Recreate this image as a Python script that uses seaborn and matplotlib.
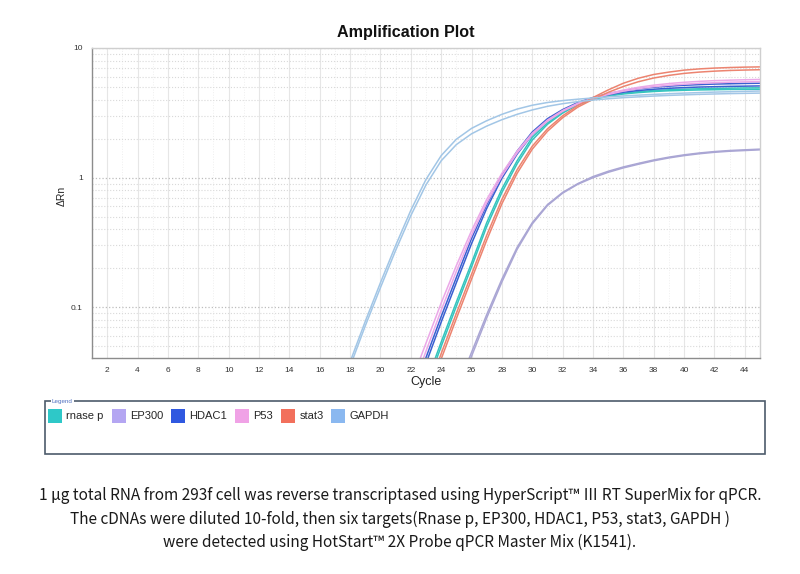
import numpy as np
import pandas as pd
import matplotlib
matplotlib.use("Agg")
import matplotlib.pyplot as plt
from matplotlib.patches import Patch, Rectangle
import seaborn as sns

# ---------------- data ----------------
CYCLES = list(range(17, 46))
nan = np.nan

GAPDH_1 = [0.020, 0.038, 0.078, 0.155, 0.30, 0.56, 0.97, 1.48, 1.98, 2.40, 2.75, 3.08, 3.38,
           3.62, 3.80, 3.93, 4.03, 4.12, 4.20, 4.27, 4.33, 4.39, 4.44, 4.49, 4.53, 4.57, 4.60, 4.63, 4.66]
GAPDH_2 = [0.018, 0.035, 0.072, 0.142, 0.275, 0.51, 0.88, 1.35, 1.80, 2.18, 2.50, 2.80, 3.08,
           3.33, 3.55, 3.72, 3.86, 3.97, 4.06, 4.14, 4.20, 4.26, 4.31, 4.35, 4.39, 4.42, 4.45, 4.47, 4.49]
RNASEP_1 = [nan, nan, nan, nan, nan, nan, 0.026, 0.054, 0.11, 0.22, 0.45, 0.82, 1.35, 2.05, 2.65,
            3.20, 3.70, 4.05, 4.30, 4.48, 4.60, 4.70, 4.76, 4.81, 4.85, 4.88, 4.90, 4.92, 4.93]
RNASEP_2 = [nan, nan, nan, nan, nan, nan, 0.024, 0.050, 0.102, 0.205, 0.42, 0.77, 1.28, 1.95, 2.58,
            3.15, 3.65, 4.00, 4.25, 4.42, 4.53, 4.62, 4.68, 4.72, 4.75, 4.77, 4.79, 4.80, 4.81]
HDAC1_1 = [nan, nan, nan, nan, nan, 0.021, 0.041, 0.085, 0.17, 0.34, 0.62, 1.05, 1.60, 2.25, 2.85,
           3.35, 3.80, 4.15, 4.45, 4.68, 4.85, 4.98, 5.08, 5.16, 5.22, 5.27, 5.30, 5.33, 5.35]
HDAC1_2 = [nan, nan, nan, nan, nan, 0.019, 0.037, 0.077, 0.155, 0.31, 0.58, 0.99, 1.52, 2.15, 2.75,
           3.28, 3.72, 4.08, 4.36, 4.56, 4.70, 4.81, 4.89, 4.95, 5.00, 5.03, 5.06, 5.08, 5.10]
P53_1 = [nan, nan, nan, nan, nan, 0.026, 0.053, 0.108, 0.21, 0.39, 0.68, 1.08, 1.60, 2.20, 2.78,
         3.30, 3.75, 4.12, 4.45, 4.74, 4.98, 5.17, 5.32, 5.44, 5.53, 5.60, 5.65, 5.69, 5.72]
P53_2 = [nan, nan, nan, nan, nan, 0.022, 0.046, 0.095, 0.19, 0.36, 0.64, 1.03, 1.55, 2.15, 2.72,
         3.25, 3.70, 4.06, 4.38, 4.65, 4.86, 5.03, 5.16, 5.26, 5.34, 5.40, 5.45, 5.48, 5.50]
STAT3_1 = [nan, nan, nan, nan, nan, nan, 0.021, 0.044, 0.090, 0.18, 0.36, 0.68, 1.15, 1.75, 2.38,
           3.00, 3.60, 4.15, 4.75, 5.35, 5.85, 6.25, 6.52, 6.75, 6.90, 7.00, 7.07, 7.12, 7.15]
STAT3_2 = [nan, nan, nan, nan, nan, nan, 0.019, 0.040, 0.082, 0.165, 0.33, 0.63, 1.08, 1.66, 2.28,
           2.90, 3.50, 4.02, 4.55, 5.05, 5.50, 5.87, 6.15, 6.37, 6.52, 6.63, 6.71, 6.76, 6.80]
EP300_1 = [nan, nan, nan, nan, nan, nan, nan, nan, 0.023, 0.045, 0.088, 0.165, 0.29, 0.45, 0.62,
           0.77, 0.90, 1.02, 1.12, 1.21, 1.29, 1.37, 1.44, 1.50, 1.55, 1.59, 1.62, 1.64, 1.66]
EP300_2 = [nan, nan, nan, nan, nan, nan, nan, nan, 0.021, 0.042, 0.083, 0.157, 0.28, 0.44, 0.61,
           0.76, 0.89, 1.00, 1.10, 1.19, 1.27, 1.35, 1.42, 1.48, 1.53, 1.57, 1.60, 1.62, 1.64]

TARGETS = ["rnase p", "EP300", "HDAC1", "P53", "stat3", "GAPDH"]
SERIES = {
    "rnase p": [RNASEP_1, RNASEP_2],
    "EP300": [EP300_1, EP300_2],
    "HDAC1": [HDAC1_1, HDAC1_2],
    "P53": [P53_1, P53_2],
    "stat3": [STAT3_1, STAT3_2],
    "GAPDH": [GAPDH_1, GAPDH_2],
}
X_TICKS = list(range(2, 46, 2))
Y_TICKS = [0.1, 1, 10]
Y_TICK_LABELS = ["0.1", "1", "10"]

LINE_COLORS = {"rnase p": "#35c4be", "EP300": "#aaa6d4", "HDAC1": "#3a5fd0",
               "P53": "#eba8e8", "stat3": "#ec8470", "GAPDH": "#a2c6e6"}
LEGEND_COLORS = {"rnase p": "#2ec8c8", "EP300": "#b4a6f2", "HDAC1": "#2f58e0",
                 "P53": "#f0a2e6", "stat3": "#f2705c", "GAPDH": "#8ab8f0"}

CAPTION = [
    "1 μg total RNA from 293f cell was reverse transcriptased using HyperScript™ Ⅲ RT SuperMix for qPCR.",
    "The cDNAs were diluted 10-fold, then six targets(Rnase p, EP300, HDAC1, P53, stat3, GAPDH )",
    "were detected using HotStart™ 2X Probe qPCR Master Mix (K1541).",
]

# ---------------- long table ----------------
rows = []
for t in TARGETS:
    for r, vals in enumerate(SERIES[t]):
        for c, v in zip(CYCLES, vals):
            if not np.isnan(v):
                rows.append({"cycle": c, "value": v, "target": t, "rep": f"{t}_{r}"})
df = pd.DataFrame(rows)

sns.set_style("white")
plt.rcParams["font.family"] = ["Liberation Sans", "DejaVu Sans"]

fig = plt.figure(figsize=(8, 5.74), dpi=100)
ax = fig.add_axes([92 / 800, 1 - 358 / 574, (760 - 92) / 800, (358 - 48) / 574])

sns.lineplot(data=df, x="cycle", y="value", hue="target", units="rep", estimator=None,
             palette=LINE_COLORS, hue_order=TARGETS, linewidth=1.1, legend=False, ax=ax,
             sort=True)
for ln in ax.lines:
    ln.set_solid_joinstyle("round")

ax.set_yscale("log")
ax.set_xlim(1, 45)
ax.set_ylim(0.0407, 10)
ax.set_xticks(X_TICKS)
ax.set_xticks(list(range(1, 46, 2)), minor=True)
ax.set_yticks(Y_TICKS)
ax.set_yticklabels(Y_TICK_LABELS)
ax.tick_params(axis="both", which="major", labelsize=6, colors="#666666", length=3,
               width=0.6, labelcolor="#333333")
ax.tick_params(axis="x", which="minor", length=0)
ax.tick_params(axis="y", which="minor", length=1.5, width=0.5, colors="#999999")
ax.yaxis.set_minor_formatter(matplotlib.ticker.NullFormatter())

ax.grid(which="major", axis="x", color="#e6e6e6", lw=0.8, ls="-")
ax.grid(which="minor", axis="x", color="#efefef", lw=0.7, ls=":")
ax.grid(which="major", axis="y", color="#bdbdbd", lw=0.9, ls=":")
ax.grid(which="minor", axis="y", color="#d9d9d9", lw=0.8, ls=":")
ax.set_axisbelow(True)

for side in ["left", "bottom"]:
    ax.spines[side].set_color("#8c8c8c")
    ax.spines[side].set_linewidth(1.0)
for side in ["top", "right"]:
    ax.spines[side].set_color("#cfcfcf")
    ax.spines[side].set_linewidth(1.0)

ax.set_xlabel("")
ax.set_ylabel("")
fig.text(426 / 800, 1 - 382 / 574, "Cycle", ha="center", va="center", fontsize=9, color="#222222")
fig.text(62 / 800, 1 - 196 / 574, "ΔRn", ha="center", va="center", fontsize=7.5,
         rotation=90, color="#222222")
fig.text(406 / 800, 1 - 32 / 574, "Amplification Plot", ha="center", va="center",
         fontsize=11.6, fontweight="bold", color="#111111")

# legend box
fig.patches.append(Rectangle((45 / 800, 1 - 454 / 574), 720 / 800, 53 / 574,
                             transform=fig.transFigure, fill=False,
                             edgecolor="#4d5b6b", lw=1.2))
fig.text(52 / 800, 1 - 401 / 574, "Legend", ha="left", va="center", fontsize=4.5,
         color="#5070c0", bbox=dict(facecolor="white", edgecolor="none", pad=0.6))
handles = [Patch(facecolor=LEGEND_COLORS[t], edgecolor="none", label=t) for t in TARGETS]
fig.legend(handles=handles, loc="upper left", bbox_to_anchor=(48 / 800, 1 - 408.5 / 574),
           ncol=6, frameon=False, fontsize=8, handlelength=1.26, handleheight=1.6,
           handletextpad=0.4, columnspacing=0.7, borderaxespad=0, borderpad=0)

for i, line in enumerate(CAPTION):
    fig.text(400 / 800, 1 - (496 + 23 * i) / 574, line, ha="center", va="center",
             fontsize=11.1, color="#1a1a1a", family=["Noto Sans CJK SC", "DejaVu Sans"])

fig.savefig("out.png", dpi=100, facecolor="white")
